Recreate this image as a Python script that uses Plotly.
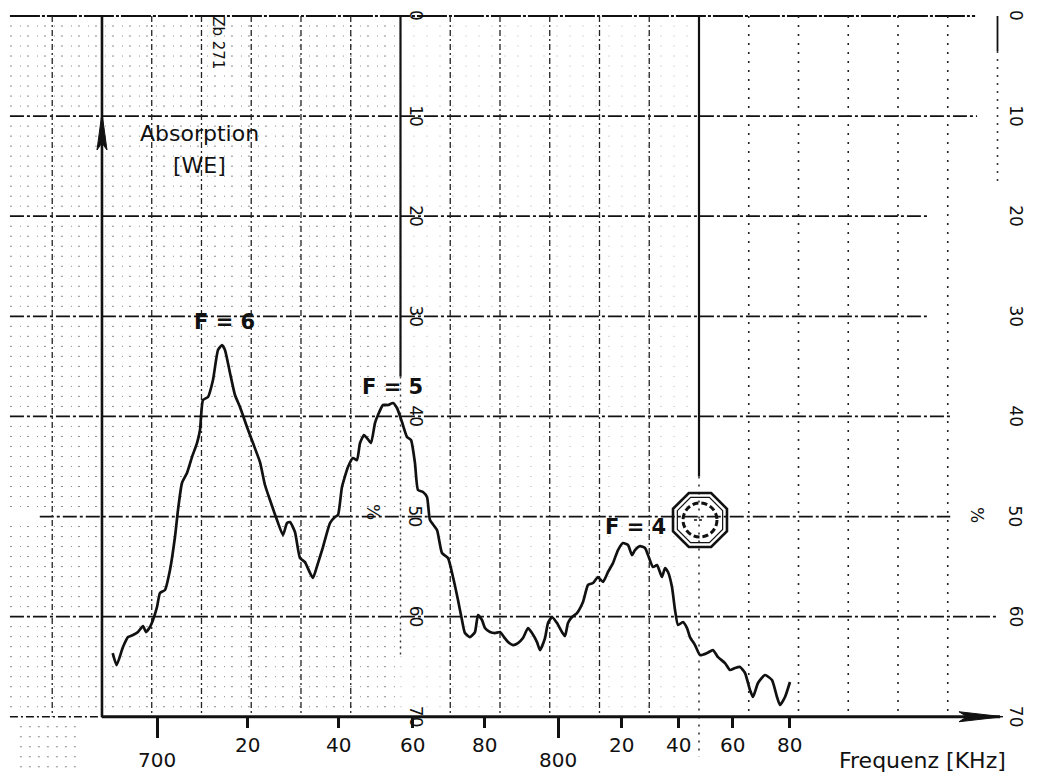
import numpy as np
import plotly.graph_objects as go

# ---------------- data ----------------
# recorder trace: x = position on chart paper (grid divisions), y = absorption [%]
trace_x = [0.215, 0.295, 0.422, 0.523, 0.623, 0.724, 0.824, 0.884, 0.965, 1.025,
           1.106, 1.166, 1.266, 1.367, 1.467, 1.528, 1.608, 1.709, 1.809, 1.910,
           1.970, 2.030, 2.131, 2.231, 2.332, 2.412, 2.472, 2.573, 2.673, 2.774,
           2.915, 3.035, 3.176, 3.276, 3.377, 3.518, 3.638, 3.719, 3.779, 3.879,
           3.980, 4.080, 4.181, 4.241, 4.342, 4.442, 4.583, 4.683, 4.744, 4.824,
           4.945, 5.045, 5.126, 5.186, 5.266, 5.327, 5.407, 5.487, 5.548, 5.648,
           5.749, 5.849, 5.930, 6.030, 6.131, 6.211, 6.291, 6.352, 6.452, 6.533,
           6.593, 6.734, 6.834, 6.955, 7.055, 7.156, 7.236, 7.296, 7.397, 7.497,
           7.558, 7.638, 7.698, 7.799, 7.899, 8.000, 8.080, 8.161, 8.261, 8.362,
           8.462, 8.563, 8.643, 8.744, 8.804, 8.905, 8.965, 9.045, 9.146, 9.246,
           9.307, 9.367, 9.447, 9.548, 9.668, 9.769, 9.869, 9.970, 10.070, 10.171,
           10.271, 10.372, 10.472, 10.573, 10.653, 10.714, 10.814, 10.915, 10.975, 11.075,
           11.156, 11.256, 11.317, 11.377, 11.457, 11.518, 11.578, 11.678, 11.759, 11.819,
           11.920, 12.020, 12.161, 12.281, 12.382, 12.523, 12.623, 12.724, 12.824, 12.925,
           13.025, 13.085, 13.186, 13.327, 13.467, 13.568, 13.628, 13.729, 13.829]
trace_y = [63.64, 64.84, 63.04, 62.04, 61.84, 61.54, 60.94, 61.54, 61.04, 60.34,
           59.04, 57.64, 57.34, 55.34, 52.05, 49.35, 46.65, 45.65, 44.06, 42.66,
           41.36, 38.36, 38.06, 36.36, 33.37, 32.87, 33.37, 35.66, 37.86, 39.06,
           41.06, 42.66, 44.56, 46.85, 48.35, 50.35, 51.85, 50.65, 50.55, 51.55,
           54.15, 54.55, 55.64, 56.14, 54.65, 53.05, 50.65, 50.05, 49.85, 47.05,
           45.05, 44.16, 44.36, 42.66, 41.86, 42.16, 42.66, 40.66, 39.86, 38.86,
           38.86, 38.66, 39.16, 40.56, 42.06, 42.36, 44.66, 47.35, 47.55, 48.05,
           50.35, 51.35, 53.65, 54.15, 56.04, 58.34, 60.34, 61.64, 62.04, 61.54,
           59.84, 60.34, 61.14, 61.54, 61.64, 61.54, 62.04, 62.54, 62.84, 62.64,
           62.14, 61.14, 61.64, 62.54, 63.34, 62.14, 60.64, 60.04, 60.64, 61.54,
           61.94, 60.64, 60.04, 59.64, 58.54, 56.84, 56.64, 56.04, 56.54, 55.54,
           54.65, 53.35, 52.65, 52.85, 53.85, 53.35, 52.95, 53.15, 53.85, 55.04,
           54.85, 56.04, 55.14, 55.54, 57.04, 59.34, 60.84, 60.54, 61.14, 62.04,
           62.84, 63.84, 63.64, 63.34, 64.04, 64.64, 65.33, 65.13, 65.03, 65.63,
           67.33, 68.03, 66.63, 65.83, 66.33, 68.03, 68.83, 68.03, 66.53]

# frequency scale (kHz) printed below the trace, positions in grid divisions
freq_major_pos = [1.106, 9.166]
freq_major_lab = ["700", "800"]
freq_minor_pos = [2.915, 4.744, 6.251, 7.698, 10.452, 11.578, 12.683, 13.809]
freq_minor_lab = ["20", "40", "60", "80", "20", "40", "60", "80"]

# percent scale of the chart paper
pct_ticks = [0, 10, 20, 30, 40, 50, 60, 70]

# peak labels
peak_lab = ["F = 6", "F = 5", "F = 4"]
peak_x = [2.47, 5.83, 10.73]
peak_y = [30.57, 37.06, 51.05]

# ---------------- layout helpers ----------------
# the page body adds an 8 px margin, so the figure is 8 px smaller than the window
W, H = 1030, 766
X_RANGE = [-1.889, 18.814]
Y_RANGE = [75.72, -0.799]
AXIS_POS = 1 - 709 / H
INK = "#111111"
FONT = "DejaVu Sans"

shapes = []
annotations = []


def seg(x0, y0, x1, y1, width=1.2, dash="solid", color=INK):
    shapes.append(dict(type="line", xref="x", yref="y", x0=x0, y0=y0, x1=x1, y1=y1,
                       line=dict(color=color, width=width, dash=dash), layer="below"))


# fine dotted rows of the recorder paper
for v in range(1, 70):
    if v % 10 == 0:
        continue
    seg(-1.85, v, 6.0, v, width=1, dash="2px,8px,1px,6px", color="#8a8a8a")
    seg(6.0, v, 12.0, v, width=1, dash="1px,12px", color="#b0b0b0")
for v in range(71, 76):
    seg(-1.65, v, -0.5, v, width=1, dash="2px,7px", color="#8a8a8a")

# major horizontal rulings
h_ext = {0: (-1.85, 17.55), 10: (-1.85, 17.59), 20: (-1.85, 16.64), 30: (-1.85, 16.58),
         40: (-1.85, 17.1), 50: (-1.25, 17.05), 60: (-1.85, 17.99)}
for v, (a, b) in h_ext.items():
    if v == 0:
        seg(a, v, b, v, width=2.2, dash="30px,2px,3px,2px")
    else:
        seg(a, v, b, v, width=1.8, dash="14px,3px,3px,3px")
seg(-1.85, 70, 0, 70, width=1.6, dash="8px,3px,2px,3px")

# vertical rulings
for d in [-1, 1, 2, 3, 4, 5, 7, 8, 9, 10, 11]:
    seg(d, 0, d, 70, width=1.3, dash="6px,3px,2px,3px", color="#222222")
for d in [13, 14, 15, 16, 17]:
    seg(d, 0, d, 70, width=1.6, dash="2px,7px", color="#222222")
seg(6, 0, 6, 36, width=2.2)
seg(6, 36, 6, 64, width=1.4, dash="2px,4px", color="#333333")
seg(12, 0, 12, 46, width=2.2)
seg(12, 46, 12, 74, width=1.6, dash="2px,6px", color="#333333")
seg(18, 0, 18, 3.5, width=1.8)
seg(18, 3.5, 18, 17, width=1.6, dash="2px,6px", color="#333333")

# axes with arrows
seg(0, 0, 0, 70, width=2.6)
seg(0, 70, 18.05, 70, width=3)
shapes.append(dict(type="path", xref="x", yref="y", xsizemode="pixel", ysizemode="pixel",
                   xanchor=18.11, yanchor=70, path="M 0,0 L -44,5 L -36,0 L -44,-5 Z",
                   fillcolor=INK, line=dict(color=INK, width=1)))
shapes.append(dict(type="path", xref="x", yref="y", xsizemode="pixel", ysizemode="pixel",
                   xanchor=0, yanchor=9.69, path="M 0,0 L -5,-37 L 0,-30 L 5,-37 Z",
                   fillcolor=INK, line=dict(color=INK, width=1)))

# octagon stamp next to F = 4
ang = np.deg2rad(22.5 + 45 * np.arange(8))


def octa(r):
    pts = [f"{r*np.cos(a):.2f},{r*np.sin(a):.2f}" for a in ang]
    return "M " + " L ".join(pts) + " Z"


for r, w in [(29.2, 2.6), (24.5, 1.2)]:
    shapes.append(dict(type="path", xref="x", yref="y", xsizemode="pixel", ysizemode="pixel",
                       xanchor=12.02, yanchor=50.35, path=octa(r),
                       line=dict(color=INK, width=w)))
shapes.append(dict(type="circle", xref="x", yref="y", xsizemode="pixel", ysizemode="pixel",
                   xanchor=12.02, yanchor=50.35, x0=-17, x1=17, y0=-17, y1=17,
                   line=dict(color=INK, width=3, dash="6px,3px")))
shapes.append(dict(type="line", xref="x", yref="y", xsizemode="pixel", ysizemode="pixel",
                   xanchor=12.02, yanchor=50.35, x0=-6, x1=4, y0=0, y1=0,
                   line=dict(color=INK, width=1.5, dash="3px,2px")))

# ---------------- texts ----------------
def text(x, y, s, size=21, bold=False, angle=0):
    annotations.append(dict(x=x, y=y, xref="x", yref="y", text=f"<b>{s}</b>" if bold else s,
                            showarrow=False, textangle=angle,
                            font=dict(family=FONT, size=size, color=INK),
                            xanchor="center", yanchor="middle"))


text(1.95, 11.69, "Absorption", size=22)
text(1.97, 14.89, "[WE]", size=22)
for s, x, y in zip(peak_lab, peak_x, peak_y):
    text(x, y, s, size=21, bold=True)
text(16.5, 74.4, "Frequenz [KHz]", size=22)
for p, s in zip(freq_major_pos, freq_major_lab):
    text(p, 74.3, s, size=20)
for p, s in zip(freq_minor_pos, freq_minor_lab):
    text(p, 72.83, s, size=20)
for v in pct_ticks:
    text(6.31, v, str(v), size=17, angle=90)
    text(18.37, v, str(v), size=17, angle=90)
text(5.45, 49.55, "%", size=17, angle=90)
text(17.59, 49.85, "%", size=17, angle=90)
text(2.33, 2.70, "Zb 271", size=15, angle=90)

# ---------------- figure ----------------
fig = go.Figure()
fig.add_trace(go.Scatter(x=trace_x, y=trace_y, mode="lines",
                         line=dict(color=INK, width=2.7, shape="spline", smoothing=0.5),
                         hoverinfo="skip", showlegend=False))

fig.update_layout(
    width=W, height=H,
    margin=dict(l=0, r=0, t=0, b=0, pad=0, autoexpand=False),
    paper_bgcolor="white", plot_bgcolor="white",
    showlegend=False,
    shapes=shapes, annotations=annotations,
    xaxis=dict(range=X_RANGE, anchor="free", position=AXIS_POS,
               showgrid=False, zeroline=False, showline=False, showticklabels=False,
               tickmode="array", tickvals=freq_major_pos, ticks="outside",
               ticklen=20, tickwidth=2.6, tickcolor=INK,
               minor=dict(tickmode="array", tickvals=freq_minor_pos, ticks="outside",
                          ticklen=10, tickwidth=2.6, tickcolor=INK, showgrid=False),
               fixedrange=True, automargin=False),
    yaxis=dict(range=Y_RANGE, visible=False, fixedrange=True, automargin=False),
)

fig.write_html("out.html")
